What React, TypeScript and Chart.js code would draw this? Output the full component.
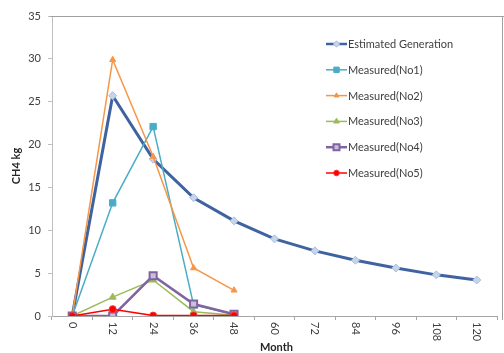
import React, { useEffect, useRef } from 'react';
import { Chart, registerables } from 'chart.js';
Chart.register(...registerables);

const months = ['0', '12', '24', '36', '48', '60', '72', '84', '96', '108', '120'];
const estimated = [0, 25.7, 18.3, 13.8, 11.1, 9.0, 7.6, 6.5, 5.6, 4.8, 4.2];
const measuredNo1 = [0, 13.2, 22.1, 1.3, 0.2];
const measuredNo2 = [0, 29.9, 18.6, 5.6, 3.0];
const measuredNo3 = [0, 2.2, 4.2, 0.5, 0.1];
const measuredNo4 = [0, 0, 4.7, 1.4, 0.2];
const measuredNo5 = [0, 0.8, 0.05, 0.05, 0.05];
const yTicks = [0, 5, 10, 15, 20, 25, 30, 35];
const seriesNames = ['Estimated Generation', 'Measured(No1)', 'Measured(No2)', 'Measured(No3)', 'Measured(No4)', 'Measured(No5)'];

const FONT = 'Lato, "Liberation Sans", sans-serif';

type Style = { line: string; width: number; shape: string; fill: string; border: string; radius: number; bw: number };
const styles: Style[] = [
  { line: '#3F62A0', width: 3, shape: 'rectRot', fill: '#C6D5EA', border: '#A9BEDD', radius: 4, bw: 1 },
  { line: '#4BACC6', width: 1.5, shape: 'rect', fill: '#4BACC6', border: '#4BACC6', radius: 4.5, bw: 1 },
  { line: '#F79646', width: 1.5, shape: 'triangle', fill: '#F79646', border: '#F79646', radius: 3.5, bw: 1 },
  { line: '#9BBB59', width: 1.5, shape: 'triangle', fill: '#9BBB59', border: '#9BBB59', radius: 4, bw: 1 },
  { line: '#8064A2', width: 2.5, shape: 'rect', fill: '#C9BFDA', border: '#8064A2', radius: 5, bw: 2 },
  { line: '#FF0000', width: 1.5, shape: 'circle', fill: '#FF0000', border: '#FF3030', radius: 3.5, bw: 1 },
];

function drawMarker(ctx: CanvasRenderingContext2D, s: Style, x: number, y: number) {
  const r = s.radius;
  ctx.save();
  ctx.fillStyle = s.fill;
  ctx.strokeStyle = s.border;
  ctx.lineWidth = s.bw;
  ctx.beginPath();
  if (s.shape === 'rectRot') {
    ctx.moveTo(x, y - r); ctx.lineTo(x + r, y); ctx.lineTo(x, y + r); ctx.lineTo(x - r, y); ctx.closePath();
  } else if (s.shape === 'rect') {
    const h = r * 0.75;
    ctx.rect(x - h, y - h, 2 * h, 2 * h);
  } else if (s.shape === 'triangle') {
    ctx.moveTo(x, y - r); ctx.lineTo(x + r * 0.87, y + r * 0.5); ctx.lineTo(x - r * 0.87, y + r * 0.5); ctx.closePath();
  } else {
    ctx.arc(x, y, r, 0, Math.PI * 2);
  }
  ctx.fill();
  ctx.stroke();
  ctx.restore();
}

const decorPlugin = {
  id: 'decor',
  afterDraw(chart: any) {
    const ctx: CanvasRenderingContext2D = chart.ctx;
    const area = chart.chartArea;
    const xs = chart.scales.x;
    ctx.save();
    // frame lines
    ctx.strokeStyle = '#A0A0A0';
    ctx.lineWidth = 1;
    ctx.beginPath();
    ctx.moveTo(area.left - 2, area.top + 0.5);
    ctx.lineTo(504, area.top + 0.5);
    ctx.moveTo(502.5, area.top);
    ctx.lineTo(502.5, area.bottom + 4);
    ctx.stroke();
    // x tick labels rotated clockwise
    ctx.fillStyle = '#404040';
    ctx.font = `11px ${FONT}`;
    ctx.textBaseline = 'middle';
    ctx.textAlign = 'left';
    months.forEach((m, i) => {
      const x = xs.getPixelForValue(i);
      ctx.save();
      ctx.translate(x, area.bottom + 6);
      ctx.rotate(Math.PI / 2);
      ctx.fillText(m, 0, 0);
      ctx.restore();
    });
    // axis titles
    ctx.fillStyle = '#262626';
    ctx.font = `bold 11px ${FONT}`;
    ctx.textAlign = 'center';
    ctx.fillText('Month', (area.left + area.right) / 2 + 2, 347);
    ctx.save();
    ctx.translate(16, (area.top + area.bottom) / 2);
    ctx.rotate(-Math.PI / 2);
    ctx.fillText('CH4 kg', 0, 0);
    ctx.restore();
    // legend
    ctx.font = `11px ${FONT}`;
    ctx.textAlign = 'left';
    ctx.fillStyle = '#404040';
    seriesNames.forEach((name, i) => {
      const y = 44 + i * 25.8;
      const s = styles[i];
      ctx.save();
      ctx.strokeStyle = s.line;
      ctx.lineWidth = Math.min(s.width, 2.5);
      ctx.beginPath();
      ctx.moveTo(326, y);
      ctx.lineTo(347, y);
      ctx.stroke();
      ctx.restore();
      drawMarker(ctx, { ...s, radius: s.radius * 0.8 }, 336.5, y);
      ctx.fillStyle = '#404040';
      ctx.fillText(name, 348, y + 0.5);
    });
    ctx.restore();
  },
};

export default function App() {
  const ref = useRef<HTMLCanvasElement>(null);
  useEffect(() => {
    document.body.style.margin = '0';
    const data = [estimated, measuredNo1, measuredNo2, measuredNo3, measuredNo4, measuredNo5];
    const chart = new Chart(ref.current as HTMLCanvasElement, {
      type: 'line',
      data: {
        labels: months,
        datasets: data.map((d, i) => ({
          label: seriesNames[i],
          data: d,
          borderColor: styles[i].line,
          borderWidth: styles[i].width,
          pointStyle: styles[i].shape as any,
          pointBackgroundColor: styles[i].fill,
          pointBorderColor: styles[i].border,
          pointBorderWidth: styles[i].bw,
          pointRadius: styles[i].radius,
          tension: 0,
          fill: false,
          order: 5 - i,
        })),
      },
      options: {
        animation: false,
        responsive: false,
        devicePixelRatio: 1,
        layout: { padding: { top: 16, right: 1, left: 0, bottom: 0 } },
        plugins: { legend: { display: false }, tooltip: { enabled: false } },
        scales: {
          x: {
            type: 'category',
            offset: true,
            grid: { offset: true, drawOnChartArea: false, drawTicks: true, tickLength: 4, color: '#A6A6A6' },
            border: { display: true, color: '#A6A6A6' },
            ticks: { display: false },
            afterFit: (s: any) => { s.height = 37; },
          },
          y: {
            min: 0,
            max: 35,
            afterBuildTicks: (s: any) => { s.ticks = yTicks.map((v) => ({ value: v })); },
            grid: { drawOnChartArea: false, drawTicks: true, tickLength: 4, color: '#BFBFBF' },
            border: { display: true, color: '#BFBFBF' },
            ticks: { color: '#404040', font: { family: FONT, size: 11 }, padding: 7 },
            afterFit: (s: any) => { s.width = 52; },
          },
        },
      },
      plugins: [decorPlugin],
    });
    return () => chart.destroy();
  }, []);
  return (
    <div style={{ position: 'fixed', left: 0, top: 0, width: 504, height: 353, background: '#fff' }}>
      <canvas ref={ref} width={504} height={353} style={{ display: 'block', width: 504, height: 353 }} />
    </div>
  );
}
